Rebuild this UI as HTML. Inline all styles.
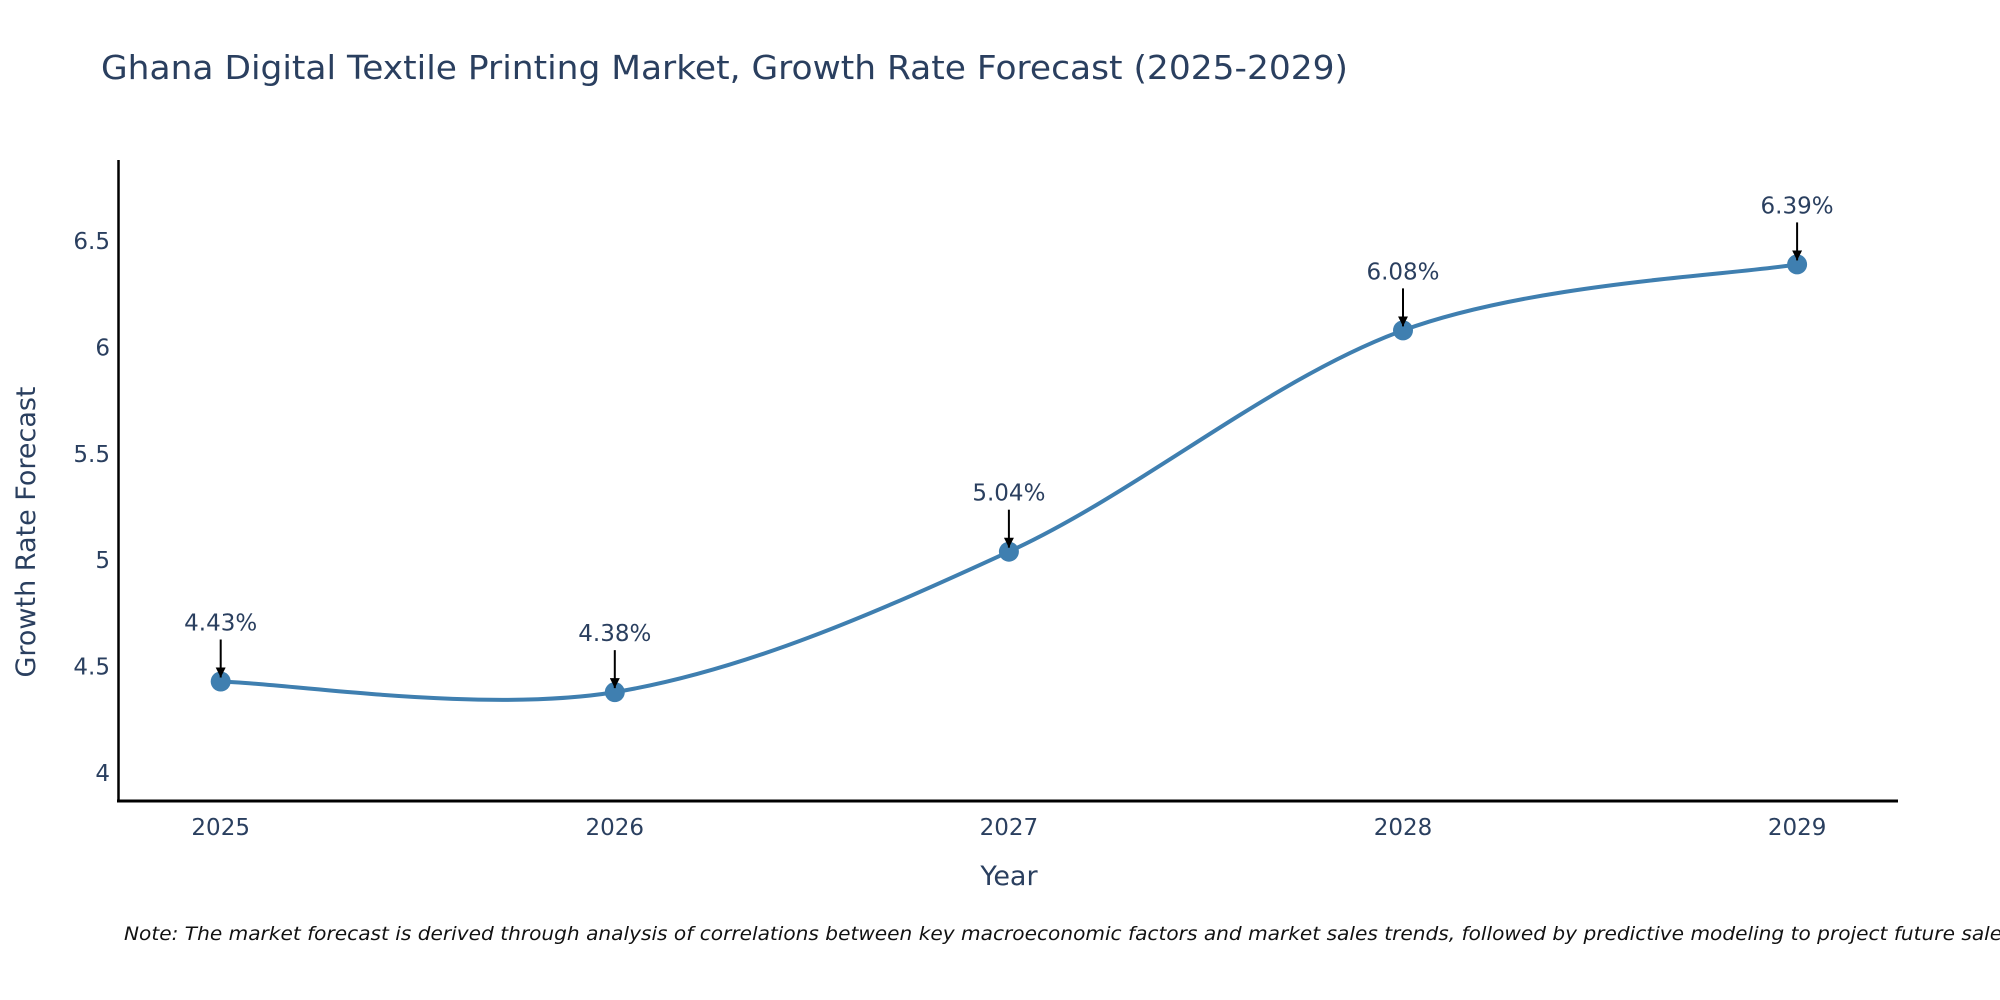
<!DOCTYPE html>
<html><head><meta charset="utf-8"><style>
body{margin:0;background:#fff}
svg{display:block;font-family:"DejaVu Sans","Liberation Sans",sans-serif}
</style></head><body>
<svg id="chart" width="2000" height="1000" viewBox="0 0 2000 1000">
<defs><marker id="ah" viewBox="0 0 10 10" refX="10" refY="5" markerWidth="5" markerHeight="5" orient="auto"><path d="M0,0 L10,5 L0,10 z" fill="#000"/></marker></defs>
<text x="101" y="79" font-size="33" fill="#2a3f5f" textLength="1247" lengthAdjust="spacingAndGlyphs">Ghana Digital Textile Printing Market, Growth Rate Forecast (2025-2029)</text>
<g id="yticks"></g><g id="xticks"></g>
<path id="line" fill="none" stroke="#3f7fb0" stroke-width="4"/>
<g id="points"></g>
<line x1="118.5" y1="160" x2="118.5" y2="802" stroke="#000" stroke-width="2.5"/>
<line x1="117" y1="801" x2="1898" y2="801" stroke="#000" stroke-width="3"/>
<text x="1009" y="885" font-size="27" fill="#2a3f5f" text-anchor="middle">Year</text>
<text transform="translate(35,532) rotate(-90)" font-size="27" fill="#2a3f5f" text-anchor="middle">Growth Rate Forecast</text>
<text x="124" y="940" font-size="19" font-style="italic" fill="#111" textLength="1895" lengthAdjust="spacingAndGlyphs">Note: The market forecast is derived through analysis of correlations between key macroeconomic factors and market sales trends, followed by predictive modeling to project future sales.</text>
</svg>
<script>
const years = [2025, 2026, 2027, 2028, 2029];
const values = [4.43, 4.38, 5.04, 6.08, 6.39];
const valueLabels = ["4.43%", "4.38%", "5.04%", "6.08%", "6.39%"];
const yTicks = [4, 4.5, 5, 5.5, 6, 6.5];
const yTickLabels = ["4", "4.5", "5", "5.5", "6", "6.5"];
const NS = "http://www.w3.org/2000/svg";
const x = v => 220.7 + (v - 2025) * 394.1;
const y = v => 773 - (v - 4) * 212.8;
function mk(tag, attrs, parent, txt){const e=document.createElementNS(NS,tag);for(const k in attrs)e.setAttribute(k,attrs[k]);if(txt!==undefined)e.textContent=txt;parent.appendChild(e);return e;}
const yt=document.getElementById('yticks');
yTicks.forEach((t,i)=>{const e=mk('text',{x:110,y:y(t)+8,'font-size':23,fill:'#2a3f5f','text-anchor':'end'},yt,yTickLabels[i]);

});
const xt=document.getElementById('xticks');
years.forEach(t=>{const e=mk('text',{x:x(t),y:835,'font-size':23,fill:'#2a3f5f','text-anchor':'middle'},xt,String(t));

});
const P=years.map((yr,i)=>[x(yr),y(values[i])]);
let d=`M${P[0][0]},${P[0][1]}`;
for(let i=0;i<P.length-1;i++){const p0=P[Math.max(0,i-1)],p1=P[i],p2=P[i+1],p3=P[Math.min(P.length-1,i+2)];
const c1=[p1[0]+(p2[0]-p0[0])/6,p1[1]+(p2[1]-p0[1])/6],c2=[p2[0]-(p3[0]-p1[0])/6,p2[1]-(p3[1]-p1[1])/6];
d+=` C${c1[0]},${c1[1]} ${c2[0]},${c2[1]} ${p2[0]},${p2[1]}`;}
document.getElementById('line').setAttribute('d',d);
const pg=document.getElementById('points');
P.forEach((p,i)=>{
const c=mk('circle',{cx:p[0],cy:p[1],r:10,fill:'#3f7fb0'},pg);


const a=mk('line',{x1:p[0],y1:p[1]-42,x2:p[0],y2:p[1]-4,stroke:'#000','stroke-width':2,'marker-end':'url(#ah)'},pg);


const t=mk('text',{x:p[0],y:p[1]-51,'font-size':23,fill:'#2a3f5f','text-anchor':'middle'},pg,valueLabels[i]);


});
</script>
</body></html>
